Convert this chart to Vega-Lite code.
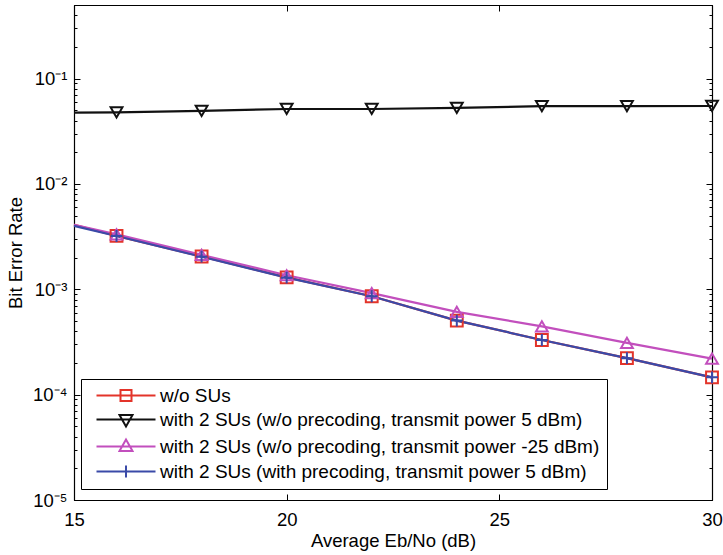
{
  "$schema": "https://vega.github.io/schema/vega-lite/v6.json",
  "width": 638,
  "height": 495,
  "autosize": {"type": "none"},
  "padding": {"left": 74, "top": 5, "right": 11, "bottom": 55},
  "background": "white",
  "config": {
    "view": {"stroke": "black", "strokeWidth": 1},
    "axis": {"grid": false, "domainColor": "black", "tickColor": "black", "labelColor": "black", "titleColor": "black", "labelFont": "Liberation Sans", "titleFont": "Liberation Sans", "labelFontSize": 18.5, "titleFontSize": 18.5, "titleFontWeight": "normal", "labelFlush": false, "labelOverlap": false, "labelBound": false, "tickWidth": 1, "domainWidth": 1.2},
    "legend": {"orient": "none", "legendX": 7, "legendY": 374, "labelFont": "Liberation Sans", "labelFontSize": 19, "labelColor": "black", "labelOffset": 54, "symbolOffset": -1, "labelLimit": 0, "symbolSize": 4, "symbolStrokeWidth": 2, "symbolOpacity": 1, "symbolFillColor": "transparent", "rowPadding": 4, "padding": 7, "strokeColor": "black", "fillColor": "white"}
  },
  "data": {
    "values": [
      {"s": "w/o SUs", "x": 15, "ber": 0.0041},
      {"s": "w/o SUs", "x": 16, "ber": 0.00322},
      {"s": "w/o SUs", "x": 18, "ber": 0.00205},
      {"s": "w/o SUs", "x": 20, "ber": 0.0013},
      {"s": "w/o SUs", "x": 22, "ber": 0.00086},
      {"s": "w/o SUs", "x": 24, "ber": 0.000505},
      {"s": "w/o SUs", "x": 26, "ber": 0.00033},
      {"s": "w/o SUs", "x": 28, "ber": 0.000222},
      {"s": "w/o SUs", "x": 30, "ber": 0.000146},
      {"s": "with 2 SUs (w/o precoding, transmit power 5 dBm)", "x": 15, "ber": 0.0475},
      {"s": "with 2 SUs (w/o precoding, transmit power 5 dBm)", "x": 16, "ber": 0.0478},
      {"s": "with 2 SUs (w/o precoding, transmit power 5 dBm)", "x": 18, "ber": 0.0495},
      {"s": "with 2 SUs (w/o precoding, transmit power 5 dBm)", "x": 20, "ber": 0.0515},
      {"s": "with 2 SUs (w/o precoding, transmit power 5 dBm)", "x": 22, "ber": 0.0515},
      {"s": "with 2 SUs (w/o precoding, transmit power 5 dBm)", "x": 24, "ber": 0.0528},
      {"s": "with 2 SUs (w/o precoding, transmit power 5 dBm)", "x": 26, "ber": 0.0548},
      {"s": "with 2 SUs (w/o precoding, transmit power 5 dBm)", "x": 28, "ber": 0.0548},
      {"s": "with 2 SUs (w/o precoding, transmit power 5 dBm)", "x": 30, "ber": 0.055},
      {"s": "with 2 SUs (w/o precoding, transmit power -25 dBm)", "x": 15, "ber": 0.0041},
      {"s": "with 2 SUs (w/o precoding, transmit power -25 dBm)", "x": 16, "ber": 0.00332},
      {"s": "with 2 SUs (w/o precoding, transmit power -25 dBm)", "x": 18, "ber": 0.00212},
      {"s": "with 2 SUs (w/o precoding, transmit power -25 dBm)", "x": 20, "ber": 0.00136},
      {"s": "with 2 SUs (w/o precoding, transmit power -25 dBm)", "x": 22, "ber": 0.00092},
      {"s": "with 2 SUs (w/o precoding, transmit power -25 dBm)", "x": 24, "ber": 0.00061},
      {"s": "with 2 SUs (w/o precoding, transmit power -25 dBm)", "x": 26, "ber": 0.000445},
      {"s": "with 2 SUs (w/o precoding, transmit power -25 dBm)", "x": 28, "ber": 0.00031},
      {"s": "with 2 SUs (w/o precoding, transmit power -25 dBm)", "x": 30, "ber": 0.00022},
      {"s": "with 2 SUs (with precoding, transmit power 5 dBm)", "x": 15, "ber": 0.0040},
      {"s": "with 2 SUs (with precoding, transmit power 5 dBm)", "x": 16, "ber": 0.00321},
      {"s": "with 2 SUs (with precoding, transmit power 5 dBm)", "x": 18, "ber": 0.00204},
      {"s": "with 2 SUs (with precoding, transmit power 5 dBm)", "x": 20, "ber": 0.00129},
      {"s": "with 2 SUs (with precoding, transmit power 5 dBm)", "x": 22, "ber": 0.00086},
      {"s": "with 2 SUs (with precoding, transmit power 5 dBm)", "x": 24, "ber": 0.000505},
      {"s": "with 2 SUs (with precoding, transmit power 5 dBm)", "x": 26, "ber": 0.00033},
      {"s": "with 2 SUs (with precoding, transmit power 5 dBm)", "x": 28, "ber": 0.000222},
      {"s": "with 2 SUs (with precoding, transmit power 5 dBm)", "x": 30, "ber": 0.000146}
    ]
  },
  "layer": [
    {
      "mark": {"type": "line", "strokeWidth": 2.2},
      "encoding": {
        "x": {"field": "x", "type": "quantitative", "scale": {"domain": [15, 30], "nice": false, "zero": false},
          "axis": {"orient": "bottom", "title": "Average Eb/No (dB)", "values": [15, 20, 25, 30], "tickSize": -6, "labelPadding": 16, "titlePadding": 3}},
        "y": {"field": "ber", "type": "quantitative", "scale": {"type": "log", "domain": [0.00001, 0.5], "nice": false},
          "axis": {"orient": "left", "title": "Bit Error Rate", "titlePadding": 7,
            "values": [0.00001, 0.00002, 0.00003, 0.00004, 0.00005, 0.00006, 0.00007, 0.00008, 0.00009, 0.0001, 0.0002, 0.0003, 0.0004, 0.0005, 0.0006, 0.0007, 0.0008, 0.0009, 0.001, 0.002, 0.003, 0.004, 0.005, 0.006, 0.007, 0.008, 0.009, 0.01, 0.02, 0.03, 0.04, 0.05, 0.06, 0.07, 0.08, 0.09, 0.1, 0.2, 0.3, 0.4, 0.5],
            "tickSize": {"condition": {"test": "abs(log(datum.value)/LN10 - round(log(datum.value)/LN10)) < 0.000001", "value": -6}, "value": -3},
            "labelPadding": 13,
            "labelExpr": "abs(datum.value - 0.1) < 1e-9 ? '10⁻¹' : abs(datum.value - 0.01) < 1e-10 ? '10⁻²' : abs(datum.value - 0.001) < 1e-11 ? '10⁻³' : abs(datum.value - 0.0001) < 1e-12 ? '10⁻⁴' : abs(datum.value - 0.00001) < 1e-13 ? '10⁻⁵' : ''"}},
        "color": {"field": "s", "type": "nominal",
          "scale": {"domain": ["w/o SUs", "with 2 SUs (w/o precoding, transmit power 5 dBm)", "with 2 SUs (w/o precoding, transmit power -25 dBm)", "with 2 SUs (with precoding, transmit power 5 dBm)"], "range": ["#e3342a", "#111111", "#c24fbd", "#3a4aa8"]},
          "legend": null}
      }
    },
    {
      "transform": [{"filter": "datum.x > 15"}],
      "mark": {"type": "point", "filled": false, "strokeWidth": 2, "size": 140, "opacity": 1},
      "encoding": {
        "x": {"field": "x", "type": "quantitative", "scale": {"domain": [15, 30], "nice": false, "zero": false},
          "axis": {"orient": "top", "title": null, "labels": false, "values": [15, 20, 25, 30], "tickSize": -6}},
        "y": {"field": "ber", "type": "quantitative", "scale": {"type": "log", "domain": [0.00001, 0.5], "nice": false},
          "axis": {"orient": "right", "title": null, "labels": false,
            "values": [0.00001, 0.00002, 0.00003, 0.00004, 0.00005, 0.00006, 0.00007, 0.00008, 0.00009, 0.0001, 0.0002, 0.0003, 0.0004, 0.0005, 0.0006, 0.0007, 0.0008, 0.0009, 0.001, 0.002, 0.003, 0.004, 0.005, 0.006, 0.007, 0.008, 0.009, 0.01, 0.02, 0.03, 0.04, 0.05, 0.06, 0.07, 0.08, 0.09, 0.1, 0.2, 0.3, 0.4, 0.5],
            "tickSize": {"condition": {"test": "abs(log(datum.value)/LN10 - round(log(datum.value)/LN10)) < 0.000001", "value": -6}, "value": -3}}},
        "color": {"field": "s", "type": "nominal",
          "scale": {"domain": ["w/o SUs", "with 2 SUs (w/o precoding, transmit power 5 dBm)", "with 2 SUs (w/o precoding, transmit power -25 dBm)", "with 2 SUs (with precoding, transmit power 5 dBm)"], "range": ["#e3342a", "#111111", "#c24fbd", "#3a4aa8"]},
          "legend": null},
        "shape": {"field": "s", "type": "nominal",
          "scale": {"domain": ["w/o SUs", "with 2 SUs (w/o precoding, transmit power 5 dBm)", "with 2 SUs (w/o precoding, transmit power -25 dBm)", "with 2 SUs (with precoding, transmit power 5 dBm)"], "range": ["square", "triangle-down", "triangle-up", "M-1,0H1M0,-1V1"]},
          "legend": null}
      }
    },
    {
      "transform": [{"filter": "datum.x == 15"}],
      "mark": {"type": "point", "filled": false, "strokeWidth": 2, "opacity": 0},
      "encoding": {
        "x": {"field": "x", "type": "quantitative", "axis": null},
        "y": {"field": "ber", "type": "quantitative", "axis": null},
        "color": {"field": "s", "type": "nominal",
          "scale": {"domain": ["w/o SUs", "with 2 SUs (w/o precoding, transmit power 5 dBm)", "with 2 SUs (w/o precoding, transmit power -25 dBm)", "with 2 SUs (with precoding, transmit power 5 dBm)"], "range": ["#e3342a", "#111111", "#c24fbd", "#3a4aa8"]},
          "legend": {"title": null}},
        "shape": {"field": "s", "type": "nominal",
          "scale": {"domain": ["w/o SUs", "with 2 SUs (w/o precoding, transmit power 5 dBm)", "with 2 SUs (w/o precoding, transmit power -25 dBm)", "with 2 SUs (with precoding, transmit power 5 dBm)"], "range": ["M0,0H59M24,-5.5H35V5.5H24Z", "M0,0H59M23,-4.5H36L29.5,7Z", "M0,0H59M23,4.5H36L29.5,-7Z", "M0,0H59M29.5,-6V6"]},
          "legend": {"title": null}}
      }
    }
  ],
  "resolve": {"axis": {"x": "independent", "y": "independent"}, "scale": {"color": "independent", "shape": "independent"}}
}
